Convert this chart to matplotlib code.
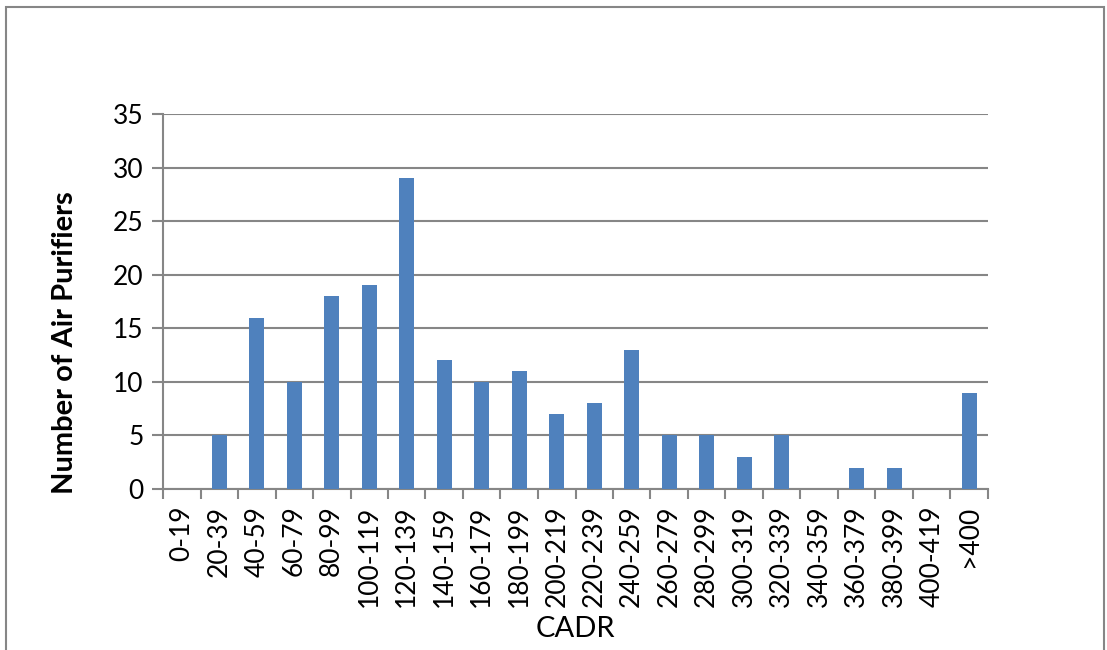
import matplotlib
matplotlib.use('Agg')
import matplotlib.pyplot as plt
from matplotlib.patches import Rectangle
import numpy as np

plt.rcParams.update({
    'font.family': ['Lato', 'DejaVu Sans'],
    'font.size': 19,
})

bins = ['0-19', '20-39', '40-59', '60-79', '80-99', '100-119', '120-139', '140-159',
        '160-179', '180-199', '200-219', '220-239', '240-259', '260-279', '280-299',
        '300-319', '320-339', '340-359', '360-379', '380-399', '400-419', '>400']
counts = [0, 5, 16, 10, 18, 19, 29, 12, 10, 11, 7, 8, 13, 5, 5, 3, 5, 0, 2, 2, 0, 9]
yticks = [0, 5, 10, 15, 20, 25, 30, 35]

grey = '#868686'

fig = plt.figure(figsize=(11.07, 6.5), dpi=100)
ax = fig.add_axes([163 / 1107, 1 - 489 / 650, 825 / 1107, 375 / 650])

x = np.arange(len(bins))
ax.bar(x, counts, width=0.4, color='#4F81BD', zorder=3)

ax.set_xlim(-0.5, len(bins) - 0.5)
ax.set_ylim(0, 35)
ax.set_yticks(yticks)
ax.yaxis.grid(True, color=grey, linewidth=1.5, zorder=0)
ax.tick_params(axis='y', length=8, width=1.5, color=grey, labelsize=19, pad=6)

ax.set_xticks(x)
ax.set_xticklabels(bins, rotation=90, fontsize=19)
ax.set_xticks(np.arange(-0.5, len(bins)), minor=True)
ax.tick_params(axis='x', which='major', length=0, pad=12)
ax.tick_params(axis='x', which='minor', length=7, width=1.5, color=grey)

for s in ['top', 'right']:
    ax.spines[s].set_visible(False)
for s in ['left', 'bottom']:
    ax.spines[s].set_color(grey)
    ax.spines[s].set_linewidth(1.5)

ax.set_ylabel('Number of Air Purifiers', fontsize=21, fontweight='bold')
ax.yaxis.set_label_coords(-0.103, 0.39)
ax.set_xlabel('CADR', fontsize=21, labelpad=6)

# outer chart border
fig.patches.append(Rectangle((6 / 1107, -0.02), 1098 / 1107, 1.02 - 7 / 650,
                             transform=fig.transFigure, fill=False,
                             edgecolor=grey, linewidth=1.5))

fig.savefig('out.png', dpi=100)
